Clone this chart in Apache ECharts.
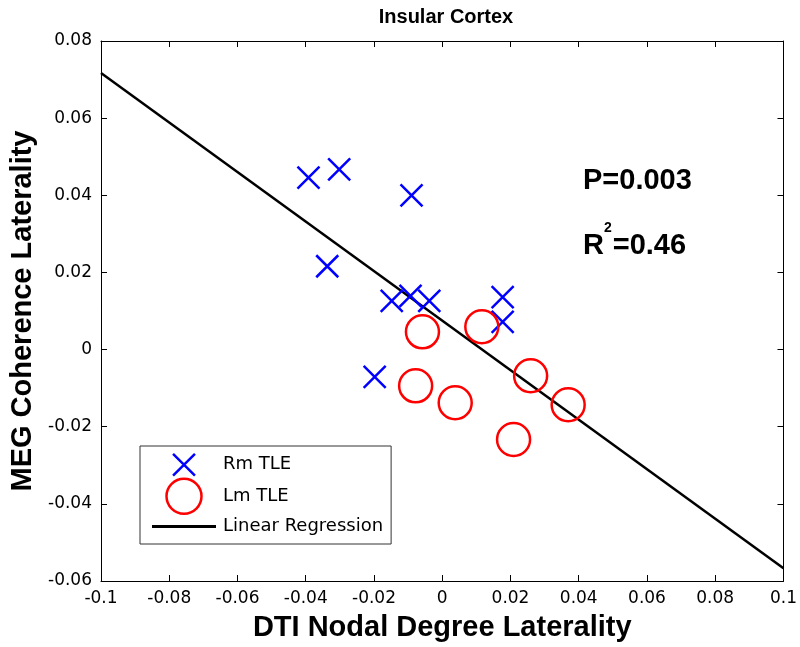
<!DOCTYPE html>
<html>
<head>
<meta charset="utf-8">
<script src="https://cdn.jsdelivr.net/npm/echarts@6/dist/echarts.min.js"></script>
<style>
html,body{margin:0;padding:0;background:#fff;}
#c{width:800px;height:647px;}
</style>
</head>
<body>
<div id="c"></div>
<script>
// Data
var rmX = [-0.0392, -0.0302, -0.0090, -0.0337, -0.0148, -0.0093, -0.0038, 0.0177, 0.0177, -0.0198];
var rmY = [0.0446, 0.0467, 0.0400, 0.0216, 0.0126, 0.0139, 0.0126, 0.0136, 0.0072, -0.0071];
var lmX = [-0.0058, 0.0116, -0.0078, 0.0038, 0.0259, 0.0369, 0.0209];
var lmY = [0.0046, 0.0059, -0.0094, -0.0138, -0.0068, -0.0143, -0.0233];
var regX = [-0.1, 0.1];
var regY = [0.0717, -0.0567];
var seriesNames = ['Rm TLE', 'Lm TLE', 'Linear Regression'];
var titleText = 'Insular Cortex';
var xName = 'DTI Nodal Degree Laterality';
var yName = 'MEG Coherence Laterality';
var pText = 'P=0.003';
var r2Value = '=0.46';

function pairs(xs, ys) { return xs.map(function (x, i) { return [x, ys[i]]; }); }

var FONT = 'Liberation Sans';
var TICKFONT = 'DejaVu Sans';
var crossPath = 'path://M0,0L10,10M10,0L0,10';
var legendCross = 'path://M-3,-3M0,0L10,10M10,0L0,10M13,13';
var legendLine = 'path://M0,-16M0,0L64,0L64,3L0,3ZM0,19';

var chart = echarts.init(document.getElementById('c'), null, {renderer: 'canvas'});
chart.setOption({
  animation: false,
  backgroundColor: '#fff',
  textStyle: {fontFamily: FONT},
  title: [
    {text: titleText, left: 441, textAlign: 'center', top: 2,
     textStyle: {fontFamily: FONT, fontSize: 20, fontWeight: 'bold', color: '#000'}},
    {text: pText, left: 578, top: 161,
     textStyle: {fontFamily: FONT, fontSize: 29, fontWeight: 'bold', color: '#000'}},
    {text: '{r|R}{s|2}{r|' + r2Value + '}', left: 578, top: 216,
     textStyle: {rich: {
       r: {fontFamily: FONT, fontSize: 29, fontWeight: 'bold', color: '#000'},
       s: {fontFamily: FONT, fontSize: 14, fontWeight: 'bold', color: '#000', padding: [0, 1, 36, 0]}
     }}}
  ],
  grid: {left: 97, right: 15, top: 41, bottom: 64},
  legend: {
    orient: 'vertical', left: 140, top: 446,
    padding: [0, 8, 0, 12],
    itemWidth: 64, itemHeight: 35, itemGap: -6,
    symbolKeepAspect: true,
    borderColor: '#333', borderWidth: 1, backgroundColor: '#fff',
    textStyle: {fontFamily: TICKFONT, fontSize: 18, color: '#000', padding: [0, 0, 0, 2]},
    data: [
      {name: seriesNames[0], icon: legendCross, itemStyle: {color: 'rgba(0,0,0,0)', borderColor: '#0000ff', borderWidth: 2.5}},
      {name: seriesNames[1], icon: 'circle', itemStyle: {color: 'rgba(0,0,0,0)', borderColor: '#ff0000', borderWidth: 2.5}},
      {name: seriesNames[2], icon: legendLine, itemStyle: {color: '#000', borderWidth: 0}}
    ]
  },
  xAxis: [
    {type: 'value', min: -0.1, max: 0.1, interval: 0.02, position: 'bottom',
     name: xName, nameLocation: 'middle', nameGap: 32,
     nameTextStyle: {fontFamily: FONT, fontSize: 29, fontWeight: 'bold', color: '#000'},
     axisLine: {onZero: false, lineStyle: {color: '#000', width: 1}},
     axisTick: {inside: true, length: 6, lineStyle: {color: '#000'}},
     axisLabel: {fontFamily: TICKFONT, fontSize: 17, color: '#000', margin: 9,
       formatter: function (v) { return String(+v.toFixed(2)); }},
     splitLine: {show: false}},
    {type: 'value', min: -0.1, max: 0.1, interval: 0.02, position: 'top',
     axisLine: {onZero: false, lineStyle: {color: '#000', width: 1}},
     axisTick: {inside: true, length: 6, lineStyle: {color: '#000'}},
     axisLabel: {show: false}, splitLine: {show: false}}
  ],
  yAxis: [
    {type: 'value', min: -0.06, max: 0.08, interval: 0.02, position: 'left',
     name: yName, nameLocation: 'middle', nameGap: 64, nameRotate: 90,
     nameTextStyle: {fontFamily: FONT, fontSize: 29, fontWeight: 'bold', color: '#000'},
     axisLine: {onZero: false, lineStyle: {color: '#000', width: 1}},
     axisTick: {inside: true, length: 6, lineStyle: {color: '#000'}},
     axisLabel: {fontFamily: TICKFONT, fontSize: 17, color: '#000', margin: 9,
       formatter: function (v) { return String(+v.toFixed(2)); }},
     splitLine: {show: false}},
    {type: 'value', min: -0.06, max: 0.08, interval: 0.02, position: 'right',
     axisLine: {onZero: false, lineStyle: {color: '#000', width: 1}},
     axisTick: {inside: true, length: 6, lineStyle: {color: '#000'}},
     axisLabel: {show: false}, splitLine: {show: false}}
  ],
  series: [
    {name: seriesNames[2], type: 'line', data: pairs(regX, regY), symbol: 'none',
     lineStyle: {color: '#000', width: 2.5}, itemStyle: {color: '#000'}, z: 3},
    {name: seriesNames[0], type: 'scatter', data: pairs(rmX, rmY), symbol: crossPath, symbolSize: 22,
     itemStyle: {color: 'rgba(0,0,0,0)', borderColor: '#0000ff', borderWidth: 2.5, opacity: 1}, z: 4},
    {name: seriesNames[1], type: 'scatter', data: pairs(lmX, lmY), symbol: 'circle', symbolSize: 33,
     itemStyle: {color: 'rgba(0,0,0,0)', borderColor: '#ff0000', borderWidth: 2.5, opacity: 1}, z: 4}
  ]
});
</script>
</body>
</html>
